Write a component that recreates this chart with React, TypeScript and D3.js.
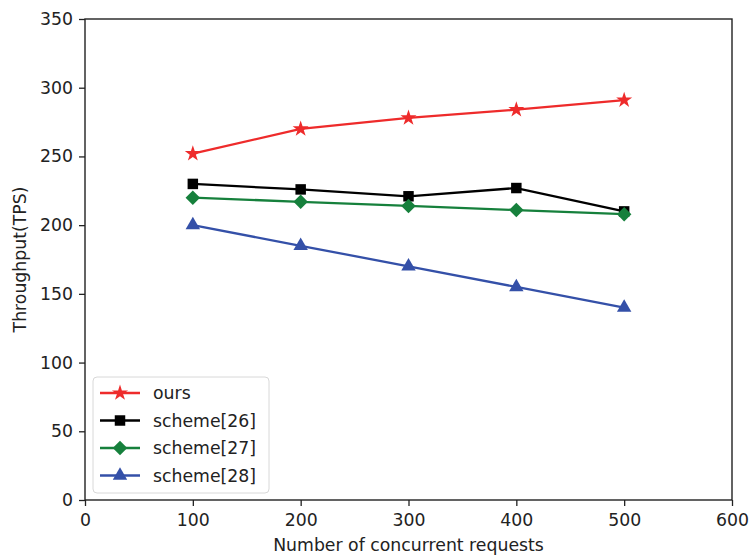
import React, { useRef, useEffect } from "react";
import * as d3 from "d3";

// data
const requests = [100, 200, 300, 400, 500];
const ours = [252, 270, 278, 284, 291];
const scheme26 = [230, 226, 221, 227, 210];
const scheme27 = [220, 217, 214, 211, 208];
const scheme28 = [200, 185, 170, 155, 140];
const xTicks = [0, 100, 200, 300, 400, 500, 600];
const yTicks = [0, 50, 100, 150, 200, 250, 300, 350];

const series = [
  { name: "ours", values: ours, color: "#ee2b2b", marker: "star" },
  { name: "scheme[26]", values: scheme26, color: "#000000", marker: "square" },
  { name: "scheme[27]", values: scheme27, color: "#16803c", marker: "diamond" },
  { name: "scheme[28]", values: scheme28, color: "#3450a8", marker: "triangle" },
];

const W = 749;
const H = 556;
const margin = { left: 85, right: 17, top: 19, bottom: 56 };
const FONT = "DejaVu Sans, sans-serif";
const FS = 17.3;

const symbolFor = (m: string) => {
  if (m === "star") return d3.symbol(d3.symbolStar, 80)();
  if (m === "square") return d3.symbol(d3.symbolSquare, 110)();
  if (m === "diamond") return d3.symbol(d3.symbolSquare, 105)();
  return d3.symbol(d3.symbolTriangle, 90)();
};
const rotFor = (m: string) => (m === "diamond" ? 45 : 0);

const Chart = () => {
  const ref = useRef<SVGSVGElement>(null);

  useEffect(() => {
    const svg = d3.select(ref.current);
    svg.selectAll("*").remove();

    const pw = W - margin.left - margin.right;
    const ph = H - margin.top - margin.bottom;

    const x = d3.scaleLinear().domain([0, 600]).range([0, pw]);
    const y = d3.scaleLinear().domain([0, 350]).range([ph, 0]);

    const g = svg
      .append("g")
      .attr("transform", `translate(${margin.left}, ${margin.top})`);

    // axes
    const xAxis = g
      .append("g")
      .attr("transform", `translate(0, ${ph})`)
      .call(d3.axisBottom(x).tickValues(xTicks).tickSize(6).tickPadding(8));
    const yAxis = g
      .append("g")
      .call(d3.axisLeft(y).tickValues(yTicks).tickSize(6).tickPadding(6));

    [xAxis, yAxis].forEach((a) => {
      a.select(".domain").remove();
      a.selectAll("line").attr("stroke", "#222").attr("stroke-width", 1.3);
      a.selectAll("text")
        .attr("font-family", FONT)
        .attr("font-size", FS)
        .attr("fill", "#222");
    });

    // frame
    g.append("rect")
      .attr("width", pw)
      .attr("height", ph)
      .attr("fill", "none")
      .attr("stroke", "#222")
      .attr("stroke-width", 1.4);

    // lines + markers
    const line = d3
      .line<number>()
      .x((d, i) => x(requests[i]))
      .y((d) => y(d));

    series.forEach((s) => {
      g.append("path")
        .datum(s.values)
        .attr("d", line)
        .attr("fill", "none")
        .attr("stroke", s.color)
        .attr("stroke-width", 2.3);

      g.append("g")
        .selectAll("path")
        .data(s.values)
        .enter()
        .append("path")
        .attr("d", symbolFor(s.marker))
        .attr(
          "transform",
          (d, i) => `translate(${x(requests[i])}, ${y(d)}) rotate(${rotFor(s.marker)})`
        )
        .attr("fill", s.color);
    });

    // legend
    const lg = g.append("g").attr("transform", "translate(8, 358)");
    lg.append("rect")
      .attr("width", 176)
      .attr("height", 116)
      .attr("rx", 4)
      .attr("fill", "white")
      .attr("fill-opacity", 0.8)
      .attr("stroke", "#d8d8d8");

    series.forEach((s, i) => {
      const row = lg.append("g").attr("transform", `translate(0, ${16 + i * 27.5})`);
      row.append("line")
        .attr("x1", 7)
        .attr("x2", 47)
        .attr("stroke", s.color)
        .attr("stroke-width", 2.3);
      row.append("path")
        .attr("d", symbolFor(s.marker))
        .attr("transform", `translate(27, 0) rotate(${rotFor(s.marker)})`)
        .attr("fill", s.color);
      row.append("text")
        .attr("x", 60)
        .attr("dy", "0.35em")
        .attr("font-family", FONT)
        .attr("font-size", FS)
        .attr("fill", "#222")
        .text(s.name);
    });

    // axis labels
    svg.append("text")
      .attr("x", margin.left + pw / 2)
      .attr("y", 551)
      .attr("text-anchor", "middle")
      .attr("font-family", FONT)
      .attr("font-size", FS)
      .attr("fill", "#222")
      .text("Number of concurrent requests");

    svg.append("text")
      .attr("transform", `translate(26, ${margin.top + ph / 2}) rotate(-90)`)
      .attr("text-anchor", "middle")
      .attr("font-family", FONT)
      .attr("font-size", FS)
      .attr("fill", "#222")
      .text("Throughput(TPS)");
  }, []);

  return <svg ref={ref} width={W} height={H}></svg>;
};

export default function App() {
  return (
    <div style={{ position: "absolute", left: 0, top: 0 }}>
      <Chart />
    </div>
  );
}
